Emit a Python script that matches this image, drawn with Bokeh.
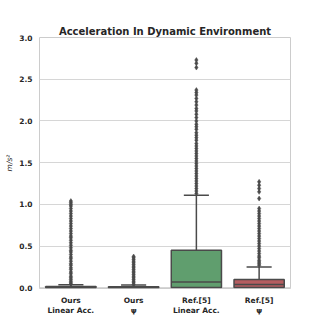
from bokeh.plotting import figure
from bokeh.models import FixedTicker, Range1d, ColumnDataSource
from bokeh.embed import file_html
from bokeh.resources import INLINE

categories = ["Ours\nLinear Acc.", "Ours\nψ", "Ref.[5]\nLinear Acc.", "Ref.[5]\nψ"]
box_colors = ["#5975A4", "#CC8963", "#609E6E", "#B55D60"]
q1 = [0.0, 0.0, 0.005, 0.005]
median = [0.008, 0.006, 0.07, 0.04]
q3 = [0.016, 0.012, 0.45, 0.10]
whisk_lo = [0.0, 0.0, 0.0, 0.0]
whisk_hi = [0.036, 0.033, 1.11, 0.25]

ours_lin_out = [0.045, 0.06, 0.08, 0.1, 0.12, 0.14, 0.17, 0.19, 0.22, 0.24, 0.27, 0.29,
                0.32, 0.35, 0.37, 0.4, 0.43, 0.45, 0.48, 0.51, 0.54, 0.57, 0.6, 0.62,
                0.65, 0.68, 0.71, 0.74, 0.77, 0.8, 0.83, 0.86, 0.89, 0.92, 0.95, 0.98,
                1.0, 1.02, 1.04]
ours_psi_out = [0.04, 0.06, 0.08, 0.1, 0.12, 0.14, 0.16, 0.18, 0.2, 0.22, 0.24, 0.26,
                0.28, 0.3, 0.32, 0.34, 0.36, 0.375]
ref_lin_out = [1.13, 1.16, 1.19, 1.22, 1.25, 1.28, 1.31, 1.34, 1.37, 1.4, 1.43, 1.46,
               1.49, 1.52, 1.55, 1.58, 1.61, 1.64, 1.67, 1.7, 1.73, 1.77, 1.8, 1.83,
               1.86, 1.9, 1.93, 1.96, 2.0, 2.04, 2.08, 2.12, 2.15, 2.19, 2.23, 2.27,
               2.31, 2.34, 2.37, 2.64, 2.69, 2.73]
ref_psi_out = [0.27, 0.29, 0.31, 0.33, 0.36, 0.38, 0.41, 0.44, 0.47, 0.5, 0.53, 0.56,
               0.59, 0.62, 0.65, 0.68, 0.71, 0.74, 0.77, 0.8, 0.83, 0.86, 0.89, 0.92,
               0.95, 1.07, 1.15, 1.19, 1.23, 1.27]
outliers = [ours_lin_out, ours_psi_out, ref_lin_out, ref_psi_out]

y_ticks = [0.0, 0.5, 1.0, 1.5, 2.0, 2.5, 3.0]

LINE = "#4a4a4a"
FONT = "DejaVu Sans"

p = figure(width=318, height=323, output_backend="svg", toolbar_location=None,
           x_range=Range1d(-0.5, 3.5), y_range=Range1d(-0.008, 3.0),
           title="Acceleration In Dynamic Environment",
           min_border_left=39, min_border_right=28, min_border_top=37, min_border_bottom=35)
p.background_fill_color = "white"
p.border_fill_color = "white"
p.outline_line_color = "#cccccc"
p.outline_line_width = 1

p.title.text_font = FONT
p.title.text_font_size = "10px"
p.title.text_font_style = "bold"
p.title.text_color = "#262626"
p.title.align = "center"
p.title.standoff = 2

xs = list(range(len(categories)))
src = ColumnDataSource(dict(x=xs, q1=q1, q3=q3, med=median, lo=whisk_lo, hi=whisk_hi,
                            color=box_colors,
                            cl=[x - 0.2 for x in xs], cr=[x + 0.2 for x in xs],
                            bl=[x - 0.4 for x in xs], br=[x + 0.4 for x in xs]))

# whiskers
p.segment(x0="x", x1="x", y0="q3", y1="hi", source=src, line_color=LINE, line_width=1.5)
p.segment(x0="x", x1="x", y0="lo", y1="q1", source=src, line_color=LINE, line_width=1.5)
p.segment(x0="cl", x1="cr", y0="hi", y1="hi", source=src, line_color=LINE, line_width=1.5)
# boxes
p.vbar(x="x", width=0.8, bottom="q1", top="q3", source=src, fill_color="color",
       line_color=LINE, line_width=1.5)
p.segment(x0="bl", x1="br", y0="med", y1="med", source=src, line_color=LINE, line_width=1.5)

# outliers
for i, vals in enumerate(outliers):
    p.scatter([xs[i]] * len(vals), vals, marker="diamond", size=5,
              fill_color=LINE, line_color=LINE, line_width=0.5)

p.xaxis.ticker = FixedTicker(ticks=xs)
p.xaxis.major_label_overrides = {i: c for i, c in enumerate(categories)}
p.yaxis.ticker = FixedTicker(ticks=y_ticks)
p.yaxis.major_label_overrides = {t: f"{t:.1f}" for t in y_ticks}
p.yaxis.axis_label = "m/s²"
p.yaxis.axis_label_text_font_style = "italic"
p.yaxis.axis_label_text_font = FONT
p.yaxis.axis_label_text_font_size = "7.5px"
p.yaxis.axis_label_standoff = 2
p.yaxis.axis_label_text_color = "#262626"

for ax in (p.xaxis, p.yaxis):
    ax.axis_line_color = None
    ax.major_tick_line_color = None
    ax.minor_tick_line_color = None
    ax.major_tick_out = 0
    ax.major_tick_in = 0
    ax.minor_tick_out = 0
    ax.minor_tick_in = 0
    ax.major_label_text_font = FONT
    ax.major_label_text_font_size = "7.5px"
    ax.major_label_text_font_style = "bold"
    ax.major_label_text_color = "#262626"
p.xaxis.major_label_standoff = 7
p.yaxis.major_label_standoff = 7

p.xgrid.grid_line_color = None
p.ygrid.grid_line_color = "#d6d6d6"
p.ygrid.grid_line_width = 1

open("out.html", "w").write(file_html(p, INLINE))
